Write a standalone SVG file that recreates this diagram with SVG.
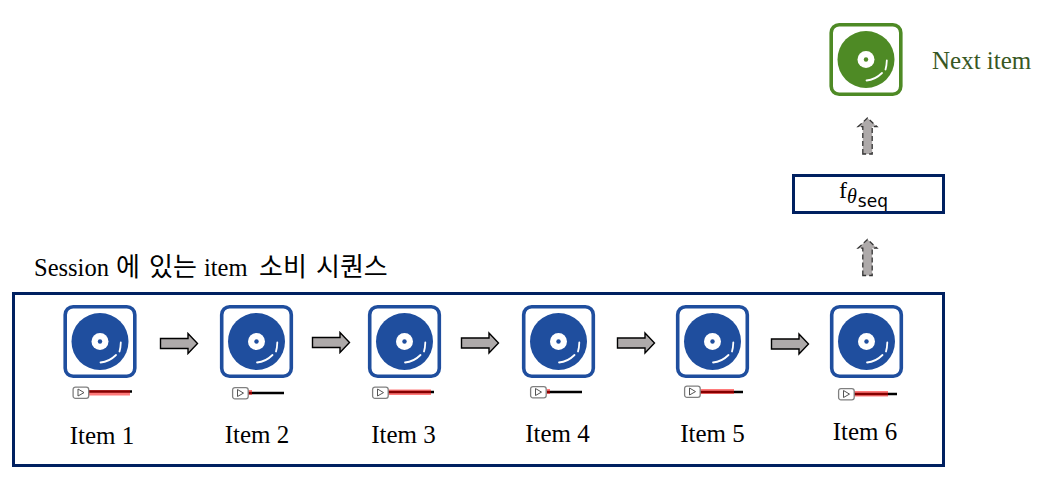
<svg xmlns="http://www.w3.org/2000/svg" xmlns:xlink="http://www.w3.org/1999/xlink" width="1052" height="481" viewBox="0 0 1052 481">
<style>
text{font-family:"Liberation Serif","Noto Sans CJK KR",serif;fill:#000}
.lbl{font-size:25px;text-anchor:middle}
.frame{fill:#fff;stroke:#002060;stroke-width:3}
.arr{fill:#aeaaaa;stroke:#000;stroke-width:1.4}
.up{fill:#aeaaaa;stroke:#333;stroke-width:1.3;stroke-dasharray:5 3}
.btn{fill:#fff;stroke:#808080;stroke-width:1.3}
.tri{fill:none;stroke:#555;stroke-width:1}
.red{fill:#ff0000;fill-opacity:.52}
.ln{stroke:#000;stroke-width:2.4;fill:none}
</style>
<defs>
<g id="disc">
<rect x="1.700" y="1.700" width="69.600" height="69.600" rx="8" fill="#fff" stroke="currentColor" stroke-width="3.600"/>
<circle cx="36.500" cy="36.500" r="28.500" fill="currentColor"/>
<circle cx="36.500" cy="36.500" r="8.500" fill="#fff"/>
<circle cx="36.500" cy="36.500" r="2.200" fill="currentColor"/>
<path d="M37 57.500C43 57 48 54.500 52.500 50" fill="none" stroke="#fff" stroke-width="1.800" stroke-linecap="round"/>
<path d="M56 46.500C56.800 44 57.200 40.500 57.300 37.500" fill="none" stroke="#fff" stroke-width="1.800" stroke-linecap="round"/>
</g>
<g id="btn">
<rect x="0.600" y="0.600" width="15.600" height="11.200" rx="2.400" class="btn"/>
<path d="M5.500 2.500L5.500 9.500L11.500 6.100Z" class="tri"/>
</g>
<path id="ra" d="M0 -5H27.500V-10L37 0L27.500 10V5H0Z" class="arr"/>
<path id="ua" d="M-4.700 36V8.700H-9.500L0 0L9.500 8.700H4.700V36Z" class="up"/>
</defs>

<g id="session-box"><rect class="frame" x="13.500" y="293.500" width="930" height="172"/></g>
<g id="session-label"><text y="275.500" font-size="24.500"><tspan x="34">Session</tspan><tspan x="116" font-size="26">에</tspan><tspan x="149" font-size="26">있는</tspan><tspan x="204">item</tspan><tspan x="259" font-size="26">소비</tspan><tspan x="316" font-size="26">시퀀스</tspan></text></g>

<g id="item-1" color="#1f4e9e">
<use xlink:href="#disc" x="63.500" y="305"/>
<path class="ln" d="M89 391.500H132"/><rect class="red" x="89" y="390" width="41" height="5.500"/>
<use xlink:href="#btn" x="72.500" y="386.500"/>
<text class="lbl" x="102" y="443.700">Item 1</text>
</g>
<g id="item-2" color="#1f4e9e">
<use xlink:href="#disc" x="220" y="305"/>
<path class="ln" d="M248 393H284"/><rect class="red" x="248" y="390" width="4" height="5"/>
<use xlink:href="#btn" x="232" y="387"/>
<text class="lbl" x="257" y="442.700">Item 2</text>
</g>
<g id="item-3" color="#1f4e9e">
<use xlink:href="#disc" x="368" y="305"/>
<path class="ln" d="M388 392H434"/><rect class="red" x="388" y="389.500" width="43" height="5.500"/>
<use xlink:href="#btn" x="372" y="386.500"/>
<text class="lbl" x="403.500" y="442.700">Item 3</text>
</g>
<g id="item-4" color="#1f4e9e">
<use xlink:href="#disc" x="522" y="305"/>
<path class="ln" d="M547 392H582"/><rect class="red" x="547" y="389" width="3" height="5"/>
<use xlink:href="#btn" x="530" y="386"/>
<text class="lbl" x="557.500" y="441.700">Item 4</text>
</g>
<g id="item-5" color="#1f4e9e">
<use xlink:href="#disc" x="676" y="305"/>
<path class="ln" d="M700 392H743"/><rect class="red" x="700" y="389" width="34" height="5"/>
<use xlink:href="#btn" x="684" y="385.500"/>
<text class="lbl" x="712.500" y="441.700">Item 5</text>
</g>
<g id="item-6" color="#1f4e9e">
<use xlink:href="#disc" x="830" y="305"/>
<path class="ln" d="M854 394H897"/><rect class="red" x="854" y="391" width="34" height="5.500"/>
<use xlink:href="#btn" x="838" y="388"/>
<text class="lbl" x="865" y="439.700">Item 6</text>
</g>

<g id="next-item" color="#4e8a25">
<use xlink:href="#disc" x="829.500" y="23"/>
<text x="932" y="68.700" font-size="25" style="fill:#385723">Next item</text>
</g>

<g id="f-seq">
<rect class="frame" x="793.500" y="175.500" width="150" height="37"/>
<text x="839" y="198" font-size="24">f<tspan font-size="20" font-style="italic" dy="5">θ</tspan><tspan font-size="17" dy="4" style="font-family:'DejaVu Sans',sans-serif" dx="1">seq</tspan></text>
</g>

<g id="connectors">
<use xlink:href="#ra" x="160.500" y="343.500"/>
<use xlink:href="#ra" x="312.500" y="342.500"/>
<use xlink:href="#ra" x="461.500" y="343"/>
<use xlink:href="#ra" x="617.500" y="343"/>
<use xlink:href="#ra" x="771.500" y="344"/>
<use xlink:href="#ua" x="867.500" y="118"/>
<use xlink:href="#ua" x="867.500" y="239.500"/>
</g>
</svg>
